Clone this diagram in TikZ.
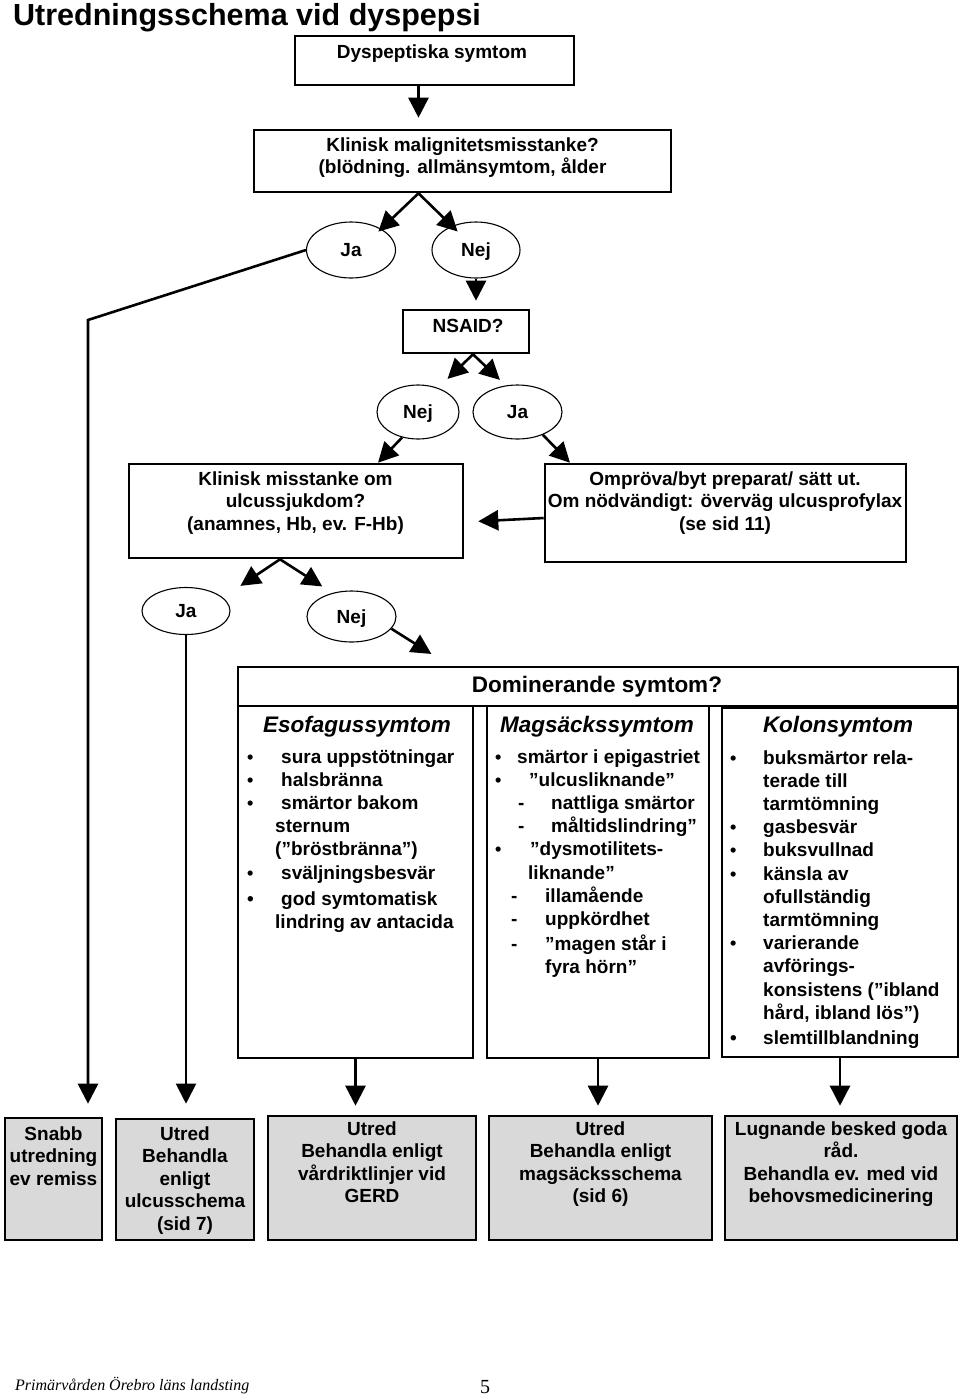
\documentclass[tikz,border=0pt]{standalone}
\usepackage{fontspec}
\setmainfont{Liberation Sans}
\newfontfamily\footfont{Liberation Serif}
\usetikzlibrary{shapes.geometric,arrows.meta}

\tikzset{
    box/.style={draw, line width=2.6pt, inner sep=0pt},
    shadebox/.style={box, fill=gray!30},
    answer/.style={draw, ellipse, line width=1.1pt, inner sep=0pt, text height=13.6pt, text depth=0pt, font=\bfseries\fontsize{19}{22}\selectfont},
    boxtext/.style={anchor=base, inner sep=0pt, font=\bfseries\fontsize{19}{22.5}\selectfont},
    listtext/.style={anchor=base west, inner sep=0pt, font=\bfseries\fontsize{19}{23.2}\selectfont},
    coltitle/.style={anchor=base, inner sep=0pt, font=\bfseries\itshape\fontsize{22.5}{27}\selectfont},
    arrow/.style={line width=2.6pt, -{Triangle[length=20pt,width=20pt]}}
}
% list line: symbol offset, symbol, text offset
\newcommand{\li}[3]{\makebox[0pt][l]{\hspace*{#1}#2}\hspace*{#3}}
\newcommand{\bul}{{\fontsize{18}{18}\selectfont\textbullet}}

\begin{document}
\begin{tikzpicture}[x=1pt,y=-1pt]
    \useasboundingbox (0,0) rectangle (960,1398);

    % Title
    \node[anchor=base west, inner sep=0pt, font=\bfseries\fontsize{30.5}{36}\selectfont] (title) at (13,25) {Utredningsschema vid dyspepsi};

    % Upper decision chain
    \node[box, minimum width=279pt, minimum height=49pt] (dysp) at (434.5,60.5) {};
    \node[boxtext] (dysp-t) at (432,58) {Dyspeptiska symtom};

    \node[box, minimum width=417pt, minimum height=62pt] (malign) at (462.5,161) {};
    \node[boxtext] (malign-t) at (462.5,151) {\begin{tabular}[t]{@{}c@{}}Klinisk malignitetsmisstanke?\\(blödning. allmänsymtom, ålder\end{tabular}};

    \node[answer, minimum width=89pt, minimum height=56pt] (ja1) at (351,250) {Ja};
    \node[answer, minimum width=88pt, minimum height=56pt] (nej1) at (476,250) {Nej};

    \node[box, minimum width=126pt, minimum height=43pt] (nsaid) at (466,331.5) {};
    \node[boxtext] (nsaid-t) at (468,332) {NSAID?};

    \node[answer, minimum width=82pt, minimum height=54pt] (nej2) at (418,412) {Nej};
    \node[answer, minimum width=89pt, minimum height=54pt] (ja2) at (517.5,412) {Ja};

    \node[box, minimum width=334pt, minimum height=94pt] (ulcus) at (296,511) {};
    \node[boxtext] (ulcus-t) at (295.5,485) {\begin{tabular}[t]{@{}c@{}}Klinisk misstanke om\\ulcussjukdom?\\(anamnes, Hb, ev. F-Hb)\end{tabular}};

    \node[box, minimum width=361pt, minimum height=98pt] (ompr) at (725.5,513) {};
    \node[boxtext] (ompr-t) at (725,485) {\begin{tabular}[t]{@{}c@{}}Ompröva/byt preparat/ sätt ut.\\Om nödvändigt: överväg ulcusprofylax\\(se sid 11)\end{tabular}};

    \node[answer, minimum width=88pt, minimum height=47pt] (ja3) at (186,611) {Ja};
    \node[answer, minimum width=89pt, minimum height=51pt] (nej3) at (351.5,616.5) {Nej};

    % Dominating symptom table
    \node[box, minimum width=720pt, minimum height=39pt] (domin) at (598,686.5) {};
    \node[anchor=base, inner sep=0pt, font=\bfseries\fontsize{22.5}{27}\selectfont] (domin-t) at (597,692) {Dominerande symtom?};

    \node[box, minimum width=235pt, minimum height=352pt] (esof) at (355.5,882) {};
    \node[box, minimum width=222pt, minimum height=352pt] (mags) at (598,882) {};
    \node[box, minimum width=236pt, minimum height=349pt] (kolon) at (840,882.5) {};

    \node[coltitle] (esof-t) at (357,732) {Esofagussymtom};
    \node[coltitle] (mags-t) at (597,732) {Magsäckssymtom};
    \node[coltitle] (kolon-t) at (838,732) {Kolonsymtom};

    \node[listtext] (esof-l) at (238,763) {\begin{tabular}[t]{@{}l@{}}
        \li{9pt}{\bul}{43pt}sura uppstötningar\\
        \li{9pt}{\bul}{43pt}halsbränna\\
        \li{9pt}{\bul}{43pt}smärtor bakom\\
        \li{0pt}{}{37pt}sternum\\
        \li{0pt}{}{37pt}(”bröstbränna”)\\
        \li{9pt}{\bul}{43pt}sväljningsbesvär\\[3pt]
        \li{9pt}{\textbullet}{43pt}god symtomatisk\\
        \li{0pt}{}{37pt}lindring av antacida
    \end{tabular}};

    \node[listtext] (mags-l) at (487,763) {\begin{tabular}[t]{@{}l@{}}
        \li{8pt}{\bul}{30pt}smärtor i epigastriet\\
        \li{8pt}{\bul}{42pt}”ulcusliknande”\\
        \li{31pt}{-}{64pt}nattliga smärtor\\
        \li{31pt}{-}{64pt}måltidslindring”\\
        \li{8pt}{\bul}{43pt}"dysmotilitets-\\
        \li{0pt}{}{41pt}liknande”\\
        \li{24pt}{-}{58pt}illamående\\
        \li{24pt}{-}{58pt}uppkördhet\\[2pt]
        \li{24pt}{-}{58pt}”magen står i\\
        \li{0pt}{}{58pt}fyra hörn”
    \end{tabular}};

    \node[listtext] (kolon-l) at (722,764) {\begin{tabular}[t]{@{}l@{}}
        \li{8pt}{\bul}{41pt}buksmärtor rela-\\
        \li{0pt}{}{41pt}terade till\\
        \li{0pt}{}{41pt}tarmtömning\\
        \li{8pt}{\bul}{41pt}gasbesvär\\
        \li{8pt}{\bul}{41pt}buksvullnad\\
        \li{8pt}{\bul}{41pt}känsla av\\
        \li{0pt}{}{41pt}ofullständig\\
        \li{0pt}{}{41pt}tarmtömning\\
        \li{8pt}{\bul}{41pt}varierande\\
        \li{0pt}{}{41pt}avförings-\\
        \li{0pt}{}{41pt}konsistens (”ibland\\
        \li{0pt}{}{41pt}hård, ibland lös”)\\[2pt]
        \li{8pt}{\textbullet}{41pt}slemtillblandning
    \end{tabular}};

    % Outcome boxes
    \node[shadebox, minimum width=97pt, minimum height=122pt] (snabb) at (53.5,1179) {};
    \node[boxtext] (snabb-t) at (53.5,1140) {\begin{tabular}[t]{@{}c@{}}Snabb\\utredning\\ev remiss\end{tabular}};

    \node[shadebox, minimum width=138pt, minimum height=121pt] (ulcs) at (185,1179.5) {};
    \node[boxtext] (ulcs-t) at (185,1140) {\begin{tabular}[t]{@{}c@{}}Utred\\Behandla\\enligt\\ulcusschema\\(sid 7)\end{tabular}};

    \node[shadebox, minimum width=208pt, minimum height=124pt] (gerd) at (372,1178) {};
    \node[boxtext] (gerd-t) at (372,1135) {\begin{tabular}[t]{@{}c@{}}Utred\\Behandla enligt\\vårdriktlinjer vid\\GERD\end{tabular}};

    \node[shadebox, minimum width=223pt, minimum height=124pt] (magsch) at (600.5,1178) {};
    \node[boxtext] (magsch-t) at (600.5,1135) {\begin{tabular}[t]{@{}c@{}}Utred\\Behandla enligt\\magsäcksschema\\(sid 6)\end{tabular}};

    \node[shadebox, minimum width=232pt, minimum height=124pt] (lugn) at (841,1178) {};
    \node[boxtext] (lugn-t) at (841,1135) {\begin{tabular}[t]{@{}c@{}}Lugnande besked goda\\råd.\\Behandla ev. med vid\\behovsmedicinering\end{tabular}};

    % Footer
    \node[anchor=base west, inner sep=0pt, font=\footfont\itshape\fontsize{16}{19}\selectfont] (foot) at (15,1390) {Primärvården Örebro läns landsting};
    \node[anchor=base, inner sep=0pt, font=\footfont\fontsize{20}{24}\selectfont] (page) at (485,1393) {5};

    % Connectors
    \coordinate (malign-s) at ([xshift=-44pt]malign.south);
    \coordinate (nsaid-s) at ([xshift=7pt]nsaid.south);
    \coordinate (ulcus-s) at ([xshift=-16pt]ulcus.south);
    \coordinate (jabend) at (88,320);

    \draw[arrow, shorten >=11pt] (dysp.south -| malign-s) -- (malign.north -| malign-s);
    \draw[arrow, shorten >=-4pt] (malign-s) -- (ja1.35);
    \draw[arrow, shorten >=-8pt] (malign-s) -- (nej1.135);
    \draw[arrow, shorten >=8pt] (nej1.south) -- (nej1.south |- nsaid.north);
    \draw[arrow, shorten >=13pt] (nsaid-s) -- (nej2.50);
    \draw[arrow, shorten >=8pt] (nsaid-s) -- (ja2.114);
    \draw[arrow] (nej2.238) -- ([xshift=82pt]ulcus.north);
    \draw[arrow] (ja2.318) -- ([xshift=-155.5pt]ompr.north);
    \draw[arrow, shorten >=14pt] ([yshift=-5pt]ompr.west) -- ([yshift=-11pt]ulcus.east);
    \draw[arrow, shorten >=21pt] (ulcus-s) -- (ja3.20);
    \draw[arrow, shorten >=12pt] (ulcus-s) -- (nej3.129);
    \draw[arrow, shorten >=22pt] (nej3.343) -- ([xshift=-148pt]domin.north);

    \draw[arrow, shorten >=13pt] (ja1.west) -- (jabend) -- (jabend |- snabb.north);
    \draw[arrow, line width=2pt, shorten >=14pt] (ja3.south) -- (ja3.south |- ulcs.north);
    \draw[arrow, shorten >=9pt] (esof.south) -- (esof.south |- gerd.north);
    \draw[arrow, shorten >=9pt] (mags.south) -- (mags.south |- magsch.north);
    \draw[arrow, shorten >=9pt] (kolon.south) -- (kolon.south |- lugn.north);
\end{tikzpicture}
\end{document}
